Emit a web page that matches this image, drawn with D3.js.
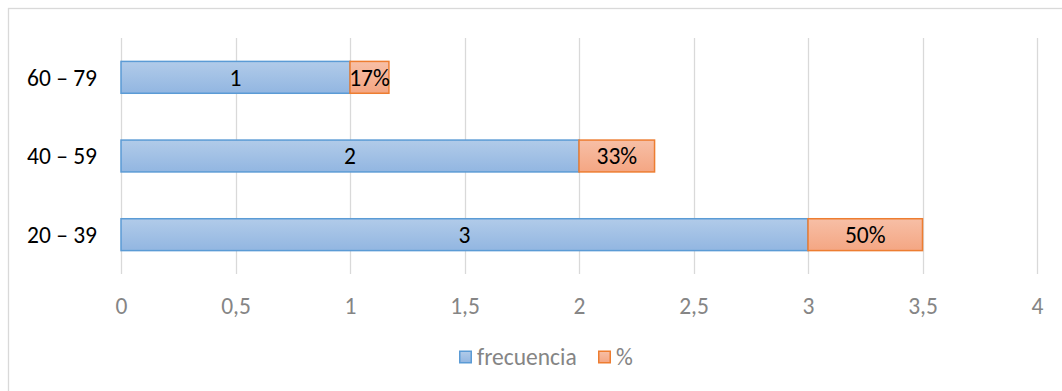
<!DOCTYPE html>
<html>
<head>
<meta charset="utf-8">
<script src="https://cdn.jsdelivr.net/npm/d3@7"></script>
<style>
  html, body { margin: 0; padding: 0; background: #fff; }
  svg { display: block; font-family: Carlito, Lato, "Open Sans", sans-serif; }
</style>
</head>
<body>
<svg id="chart" width="1062" height="391"></svg>
<script>
// Age groups, top to bottom
const categories = ["60 – 79", "40 – 59", "20 – 39"];
// Count per group
const frecuencia = [1, 2, 3];
// Share of the total per group
const porcentaje = [0.17, 0.33, 0.50];
const porcentajeLabels = ["17%", "33%", "50%"];
const xTicks = [0, 0.5, 1, 1.5, 2, 2.5, 3, 3.5, 4];
const seriesNames = ["frecuencia", "%"];

const FONT = "Carlito, Lato, 'Open Sans', sans-serif";
const FS = 23.5;
const svg = d3.select("#chart");
const W = 1062, H = 391;

// outer frame
svg.append("rect")
  .attr("x", 8.5).attr("y", 8.5)
  .attr("width", W).attr("height", H)
  .attr("fill", "#fff").attr("stroke", "#d9d9d9").attr("stroke-width", 1.3);

const defs = svg.append("defs");
function grad(id, top, bottom) {
  const g = defs.append("linearGradient").attr("id", id)
    .attr("x1", 0).attr("y1", 0).attr("x2", 0).attr("y2", 1);
  g.append("stop").attr("offset", "0%").attr("stop-color", top);
  g.append("stop").attr("offset", "100%").attr("stop-color", bottom);
}
grad("gBlue", "#b1cbe9", "#92b6e1");
grad("gOrange", "#f7bfa6", "#f4a683");

const x = d3.scaleLinear().domain([0, 4]).range([121, 1037]);
const y = d3.scaleBand().domain(categories).range([38, 274]).paddingInner(0.595).paddingOuter(0.2975);

// vertical gridlines
svg.append("g").selectAll("line").data(xTicks).join("line")
  .attr("x1", d => Math.round(x(d)) + 0.5).attr("x2", d => Math.round(x(d)) + 0.5)
  .attr("y1", 38).attr("y2", 274)
  .attr("stroke", "#d9d9d9").attr("stroke-width", 1.3);

// x tick labels
const fmt = d => String(d).replace(".", ",");
const xAxis = d3.axisBottom(x).tickValues(xTicks).tickFormat(fmt).tickSize(0).tickPadding(0);
const gx = svg.append("g").attr("transform", "translate(0,306)").call(xAxis)
  .attr("font-size", null).attr("font-family", null);
gx.select(".domain").remove();
gx.selectAll("text")
  .attr("fill", "#858585").attr("font-size", FS)
  .attr("font-family", FONT)
  .attr("dy", "0.36em").attr("y", 0);

// category labels
const yAxis = d3.axisLeft(y).tickSize(0).tickPadding(0);
const gy = svg.append("g").attr("transform", "translate(97,0)").call(yAxis)
  .attr("font-size", null).attr("font-family", null);
gy.select(".domain").remove();
gy.selectAll("text")
  .attr("fill", "#000").attr("font-size", FS)
  .attr("font-family", FONT).attr("dy", "0.36em");

const rows = categories.map((c, i) => ({ c, f: frecuencia[i], p: porcentaje[i], pl: porcentajeLabels[i] }));

// frecuencia segment
svg.append("g").selectAll("rect").data(rows).join("rect")
  .attr("x", d => x(0)).attr("y", d => y(d.c))
  .attr("width", d => x(d.f) - x(0)).attr("height", y.bandwidth())
  .attr("fill", "url(#gBlue)").attr("stroke", "#5b9bd5").attr("stroke-width", 1.5);

// percentage segment stacked on top
svg.append("g").selectAll("rect").data(rows).join("rect")
  .attr("x", d => x(d.f)).attr("y", d => y(d.c))
  .attr("width", d => x(d.f + d.p) - x(d.f)).attr("height", y.bandwidth())
  .attr("fill", "url(#gOrange)").attr("stroke", "#ed7d31").attr("stroke-width", 1.5);

// value labels
svg.append("g").selectAll("text").data(rows).join("text")
  .attr("x", d => x(d.f / 2)).attr("y", d => y(d.c) + y.bandwidth() / 2)
  .attr("text-anchor", "middle").attr("dy", "0.36em")
  .attr("font-size", FS).attr("fill", "#000")
  .text(d => d.f);

svg.append("g").selectAll("text").data(rows).join("text")
  .attr("x", d => x(d.f + d.p / 2)).attr("y", d => y(d.c) + y.bandwidth() / 2)
  .attr("text-anchor", "middle").attr("dy", "0.36em")
  .attr("font-size", FS).attr("fill", "#000")
  .text(d => d.pl);

// legend
const legend = svg.append("g").attr("transform", "translate(0,357)");
const legendItems = [
  { name: seriesNames[0], x: 459, fill: "url(#gBlue)", stroke: "#5b9bd5" },
  { name: seriesNames[1], x: 598, fill: "url(#gOrange)", stroke: "#ed7d31" }
];
legendItems.forEach(it => {
  legend.append("rect").attr("x", it.x + 0.75).attr("y", -5.75)
    .attr("width", 11.5).attr("height", 11.5)
    .attr("fill", it.fill).attr("stroke", it.stroke).attr("stroke-width", 1.5);
  legend.append("text").attr("x", it.x + 18).attr("y", 0).attr("dy", "0.36em")
    .attr("font-size", FS).attr("fill", "#858585").text(it.name);
});
</script>
</body>
</html>
